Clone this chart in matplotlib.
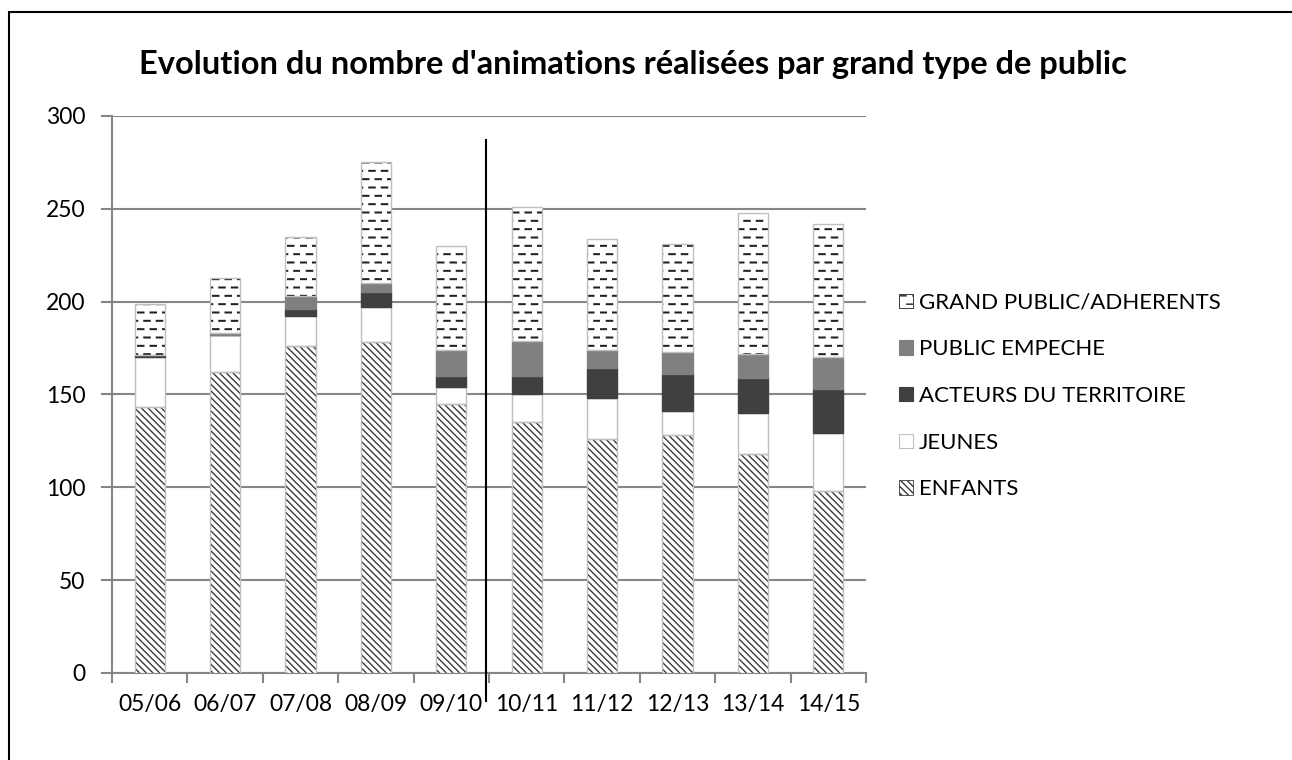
import numpy as np
import matplotlib
matplotlib.use("Agg")
import matplotlib.pyplot as plt
import matplotlib.hatch as mhatch
from matplotlib.path import Path
from matplotlib.patches import Patch, Rectangle

# ---------------- data ----------------
seasons = ["05/06", "06/07", "07/08", "08/09", "09/10",
           "10/11", "11/12", "12/13", "13/14", "14/15"]
enfants = [143, 162, 176, 178, 145, 135, 126, 128, 118, 98]
jeunes = [27, 20, 16, 19, 9, 15, 22, 13, 22, 31]
acteurs = [1, 0, 4, 8, 6, 10, 16, 20, 19, 24]
empeche = [0, 1, 7, 5, 14, 19, 10, 12, 13, 17]
grand_public = [28, 30, 32, 65, 56, 72, 60, 58, 76, 72]
series_names = ["ENFANTS", "JEUNES", "ACTEURS DU TERRITOIRE",
                "PUBLIC EMPECHE", "GRAND PUBLIC/ADHERENTS"]
title = "Evolution du nombre d'animations réalisées par grand type de public"
y_ticks = [0, 50, 100, 150, 200, 250, 300]


# ------------- custom dashed hatch (replaces '*') -------------
class DashHatch(mhatch.HatchPatternBase):
    def __init__(self, hatch, density):
        n = hatch.count('*')
        self.rows = 12 if n else 0
        self.cols = 8
        self.num_vertices = self.rows * self.cols * 2

    def set_vertices_and_codes(self, vertices, codes):
        k = 0
        for r in range(self.rows):
            y = (r + 0.5) / self.rows
            off = 0.5 / self.cols if r % 2 else 0.0
            for c in range(self.cols):
                x0 = c / self.cols + off + 0.04 / self.cols
                x1 = x0 + 0.44 / self.cols
                vertices[k] = (x0, y)
                vertices[k + 1] = (x1, y)
                codes[k] = Path.MOVETO
                codes[k + 1] = Path.LINETO
                k += 2


mhatch._hatch_types = [t for t in mhatch._hatch_types
                       if t is not mhatch.Stars] + [DashHatch]

plt.rcParams['font.family'] = ['Lato', 'DejaVu Sans']
plt.rcParams['hatch.linewidth'] = 1.0

fig = plt.figure(figsize=(12.92, 7.6), dpi=100)
ax = fig.add_axes([0.0867, 0.1145, 0.5836, 0.7329])

x = np.arange(len(seasons))
width = 0.4
values = [enfants, jeunes, acteurs, empeche, grand_public]
faces = ["white", "white", "#404040", "#808080", "white"]
hatches = ["\\\\\\\\\\", None, None, None, "*"]
hcolors = ["#3a3a3a", "#bfbfbf", "#404040", "#808080", "#202020"]
hlw = [1.0, 1.0, 1.0, 1.0, 1.45]

bottom = np.zeros(len(seasons))
handles = []
for vals, fc, h, hc, lw, name in zip(values, faces, hatches, hcolors, hlw,
                                     series_names):
    vals = np.array(vals, dtype=float)
    if h is not None:
        with plt.rc_context({'hatch.linewidth': lw}):
            bars = ax.bar(x, vals, width, bottom=bottom, color=fc, hatch=h,
                          edgecolor=hc, linewidth=0, zorder=3)
            hp = Patch(facecolor=fc, hatch=h, edgecolor=hc,
                       linewidth=0.6, label=name)
        for b in list(bars) + [hp]:
            if hasattr(b, "set_hatch_linewidth"):
                b.set_hatch_linewidth(lw)
        ax.bar(x, vals, width, bottom=bottom, fill=False,
               edgecolor="#bfbfbf", linewidth=1.0, zorder=4)
        handles.append(hp)
    else:
        ax.bar(x, vals, width, bottom=bottom, color=fc,
               edgecolor="#bfbfbf" if fc == "white" else fc,
               linewidth=1.0, zorder=3)
        handles.append(Patch(facecolor=fc,
                             edgecolor="#bfbfbf" if fc == "white" else fc,
                             linewidth=0.8, label=name))
    bottom += vals

ax.set_ylim(0, 300)
ax.set_xlim(-0.5, len(seasons) - 0.5)
ax.set_yticks(y_ticks)
ax.set_xticks(x)
ax.set_xticklabels(seasons)
ax.set_xticks(np.arange(len(seasons) + 1) - 0.5, minor=True)
ax.tick_params(axis='x', which='major', length=0, labelsize=16.5, pad=15)
ax.tick_params(axis='x', which='minor', length=7, width=1.5, color="#868686")
ax.tick_params(axis='y', length=8, width=1.5, color="#868686",
               labelsize=16.5, pad=11)
ax.yaxis.grid(True, color="#868686", linewidth=1.5, zorder=0)
ax.set_axisbelow(True)
for s in ["top", "right"]:
    ax.spines[s].set_visible(False)
for s in ["left", "bottom"]:
    ax.spines[s].set_color("#868686")
    ax.spines[s].set_linewidth(1.5)

# separator line between 09/10 and 10/11
ax.plot([4.46, 4.46], [-15, 287], color="black", linewidth=1.5,
        clip_on=False, zorder=6)

fig.text(0.49, 0.9145, title, ha="center", va="center",
         fontsize=23.5, fontweight="bold")

leg = fig.legend(handles[::-1], [h.get_label() for h in handles[::-1]],
                 loc="center left", bbox_to_anchor=(0.6892, 0.479),
                 frameon=False, fontsize=16, handlelength=0.62,
                 handleheight=0.62, handletextpad=0.25, labelspacing=1.2,
                 borderaxespad=0)

fig.add_artist(Rectangle((9 / 1292, -0.1), 1.2, 1 - 12 / 760 + 0.1,
                         transform=fig.transFigure, fill=False,
                         edgecolor="black", linewidth=1.5))

fig.savefig("out.png", dpi=100)
